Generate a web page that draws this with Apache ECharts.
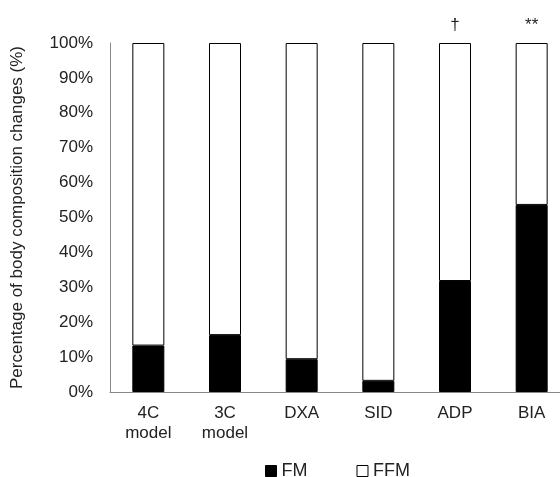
<!DOCTYPE html>
<html>
<head>
<meta charset="utf-8">
<script src="https://cdn.jsdelivr.net/npm/echarts@6/dist/echarts.min.js"></script>
<style>html,body{margin:0;padding:0;background:#fff;overflow:hidden;width:560px;height:477px;}#c{width:570px;height:477px;}</style>
</head>
<body>
<div id="c"></div>
<script>
const categories = ['4C\nmodel', '3C\nmodel', 'DXA', 'SID', 'ADP', 'BIA'];
const fmValues = [13.3, 16.3, 9.4, 3.2, 31.8, 53.6];
const ffmValues = [86.7, 83.7, 90.6, 96.8, 68.2, 46.4];
const annotations = ['', '', '', '', '\u2020', '**'];
const yTicks = [0, 10, 20, 30, 40, 50, 60, 70, 80, 90, 100];

const chart = echarts.init(document.getElementById('c'));
const font = 'Liberation Sans, Arial, sans-serif';
chart.setOption({
  animation: false,
  grid: { left: 110, right: 0, top: 43, bottom: 85 },
  xAxis: {
    type: 'category',
    data: categories,
    axisLine: { lineStyle: { color: '#888', width: 1 } },
    axisTick: { show: false },
    axisLabel: { color: '#222', fontFamily: font, fontSize: 17, lineHeight: 20, margin: 11 }
  },
  yAxis: {
    type: 'value',
    min: 0, max: 100, interval: 10,
    name: 'Percentage of body composition changes (%)',
    nameLocation: 'middle',
    nameGap: 84,
    nameTextStyle: { color: '#222', fontFamily: font, fontSize: 17 },
    axisLine: { show: true, lineStyle: { color: '#888', width: 1 } },
    axisTick: { show: false },
    splitLine: { show: false },
    axisLabel: { color: '#222', fontFamily: font, fontSize: 17, margin: 17,
      formatter: v => yTicks.includes(v) ? v + '%' : '' }
  },
  legend: {
    top: 457,
    left: 260,
    itemGap: 49,
    itemWidth: 11,
    itemHeight: 11,
    itemTextGap: 5,
    icon: 'rect',
    textStyle: { color: '#222', fontFamily: font, fontSize: 18 },
    data: [
      { name: 'FM', itemStyle: { color: '#000', borderColor: '#000', borderWidth: 1 } },
      { name: 'FFM', itemStyle: { color: '#fff', borderColor: '#000', borderWidth: 1 } }
    ]
  },
  series: [
    {
      name: 'FM', type: 'bar', stack: 's', barWidth: 32,
      data: fmValues,
      itemStyle: { color: '#000', borderColor: '#000', borderWidth: 1 }
    },
    {
      name: 'FFM', type: 'bar', stack: 's', barWidth: 32,
      data: ffmValues,
      itemStyle: { color: '#fff', borderColor: '#000', borderWidth: 1 },
      label: {
        show: true, position: 'top', distance: 9,
        color: '#222', fontFamily: font, fontSize: 17,
        formatter: p => annotations[p.dataIndex]
      }
    }
  ]
});
</script>
</body>
</html>
